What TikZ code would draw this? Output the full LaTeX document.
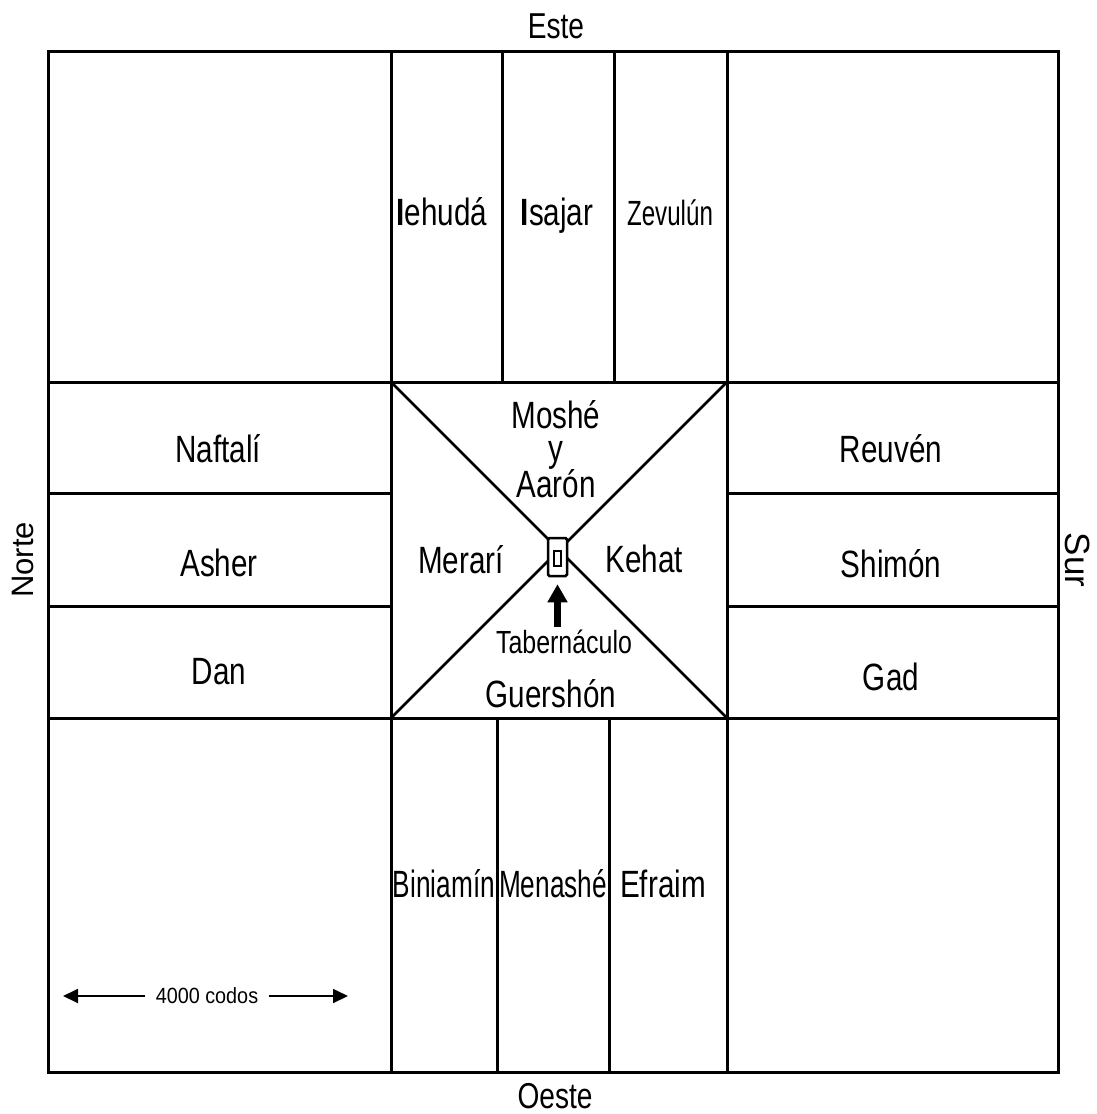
\documentclass[tikz,border=0pt]{standalone}
\usepackage{fontspec}
\setmainfont{Liberation Sans}[FakeStretch=0.78]
\newfontfamily\narrowfont{Liberation Sans}[FakeStretch=0.69]
\newfontfamily\midfont{Liberation Sans}[FakeStretch=0.9]
\newfontfamily\widefont{Liberation Sans}
\usetikzlibrary{arrows.meta}
\begin{document}
\begin{tikzpicture}[x=1pt,y=-1pt,line width=3pt,
  lbl/.style={font=\fontsize{38}{38}\selectfont, anchor=base, inner sep=0pt},
  nlbl/.style={font=\narrowfont\fontsize{38}{38}\selectfont, anchor=base, inner sep=0pt},
  dirlbl/.style={font=\fontsize{36}{36}\selectfont, anchor=base, inner sep=0pt, text depth=0pt},
  grid/.style={line width=3pt},
  diag/.style={line width=2.6pt},
  dimarrow/.style={line width=1.8pt, -{Triangle[length=15pt 0 0, width=14pt 0 0]}}
  ]
\useasboundingbox (0,0) rectangle (1097,1114);
% frame and grid
\draw[grid] (48,51) rectangle (1058,1072);
\draw[grid] (48,382) -- (1058,382);
\draw[grid] (48,718) -- (1058,718);
\draw[grid] (391,51) -- (391,1072);
\draw[grid] (727,51) -- (727,1072);
\draw[grid] (502,51) -- (502,382);
\draw[grid] (614,51) -- (614,382);
\draw[grid] (497,718) -- (497,1072);
\draw[grid] (609,718) -- (609,1072);
\draw[grid] (48,493) -- (391,493);
\draw[grid] (48,606) -- (391,606);
\draw[grid] (727,493) -- (1058,493);
\draw[grid] (727,606) -- (1058,606);
% diagonals
\draw[diag] (391,382) -- (727,718);
\draw[diag] (727,382) -- (391,718);
% tabernacle
\node[draw, fill=white, line width=2.5pt, rounded corners=1.5pt, minimum width=19pt, minimum height=38pt, inner sep=0pt] (tab) at (557.5,557) {};
\node[draw, line width=2.2pt, minimum width=7pt, minimum height=15pt, inner sep=0pt] (arca) at (557.5,558.5) {};
% labels
\node[dirlbl] (este) at (556,38) {Este};
\node[dirlbl] (oeste) at (555,1108) {Oeste};
\node[font=\widefont\fontsize{31}{31}\selectfont, anchor=base, inner sep=0pt, rotate=90] (norte) at (34,560) {Norte};
\node[font=\widefont\fontsize{35}{35}\selectfont, anchor=base, inner sep=0pt, rotate=-90] (sur) at (1065,560) {Sur};
\node[lbl] (iehuda) at (442,225) {\textbf{I}ehudá};
\node[lbl] (isajar) at (557,225) {\textbf{I}sajar};
\node[nlbl, font=\narrowfont\fontsize{35}{35}\selectfont] (zevulun) at (670,225) {Zevulún};
\node[lbl] (naftali) at (218,462) {Naftalí};
\node[lbl] (asher) at (219,576) {Asher};
\node[lbl] (dan) at (219,684) {Dan};
\node[lbl] (reuven) at (891,462) {Reuvén};
\node[lbl] (shimon) at (891,577) {Shimón};
\node[lbl] (gad) at (891,690) {Gad};
\node[lbl, text depth=0pt] (moshe) at (556,428) {Moshé};
\node[lbl, text height=0.5em, text depth=0.2em] (y) at (556,461) {y};
\node[lbl, text height=0.7em] (aaron) at (556,497) {Aarón};
\node[lbl] (merari) at (461,573) {Merarí};
\node[lbl] (kehat) at (644,572) {Kehat};
\node[lbl, font=\fontsize{32}{32}\selectfont] (tablbl) at (564,653) {Tabernáculo};
\node[lbl] (guershon) at (551,707) {Guershón};
\node[nlbl] (biniamin) at (444,897) {Biniamín};
\node[nlbl] (menashe) at (553,897) {Menashé};
\node[lbl] (efraim) at (663,897) {Efraim};
% arrow to tabernacle
\draw[line width=7pt, -{Triangle[length=18pt 0 0, width=19pt 0 0]}, shorten >=7pt, shorten <=1pt] (tab.south |- tablbl.north) -- (tab.south);
% scale
\node[font=\midfont\fontsize{22}{22}\selectfont, inner xsep=9pt, inner ysep=0pt] (codos) at (207,996) {4000 codos};
\coordinate (cL) at (63,996);
\coordinate (cR) at (348,996);
\draw[dimarrow] (codos.west) -- (cL);
\draw[dimarrow] (codos.east) -- (cR);
\end{tikzpicture}
\end{document}
